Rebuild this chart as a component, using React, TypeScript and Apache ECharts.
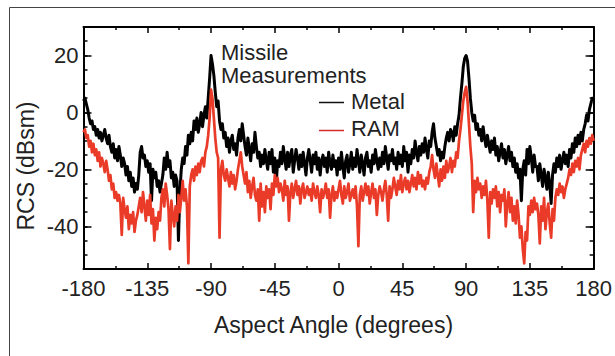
import React, { useEffect, useRef } from "react";
import * as echarts from "echarts";

// Aspect angle grid: -180 .. 180 in 1-degree steps
const ANGLE_START = -180;
const ANGLE_STEP = 1;

// Metal missile RCS (dBsm), one value per degree from -180 to 180
const metalRcs = [
  4, 5, 3, 1, -2, -4, -3, -6, -5, -8,
  -6, -9, -7, -10, -8, -6, -9, -11, -8, -12,
  -14, -11, -16, -13, -17, -12, -15, -19, -16, -18,
  -22, -19, -24, -21, -26, -23, -28, -25, -27, -22,
  -14, -12, -16, -15, -19, -17, -21, -18, -31, -20,
  -23, -21, -26, -24, -28, -25, -22, -16, -20, -14,
  -19, -17, -23, -21, -26, -22, -24, -45, -28, -20,
  -16, -18, -12, -15, -8, -11, -7, -10, -3, -6,
  -2, -7, -4, 0, -5, -1, 2, -2, 5, 12,
  20, 17, 13, 7, 2, 4, -3, -6, -4, -9,
  -7, -12, -9, -14, -10, -8, -13, -11, -15, -9,
  -6, -10, -4, -8, -12, -15, -9, -13, -17, -11,
  -14, -7, -12, -16, -14, -19, -15, -18, -13, -17,
  -20, -14, -18, -13, -21, -16, -25, -17, -19, -14,
  -18, -12, -16, -20, -14, -19, -15, -13, -21, -17,
  -13, -16, -20, -15, -19, -14, -18, -22, -16, -13,
  -17, -21, -15, -18, -14, -20, -16, -22, -17, -15,
  -19, -16, -21, -14, -18, -20, -15, -19, -17, -22,
  -16, -20, -14, -19, -23, -17, -15, -21, -18, -14,
  -20, -16, -19, -13, -17, -21, -15, -18, -22, -16,
  -14, -19, -17, -21, -15, -18, -13, -17, -20, -16,
  -19, -14, -18, -12, -16, -20, -15, -17, -13, -18,
  -16, -20, -14, -18, -15, -19, -12, -17, -14, -21,
  -15, -18, -13, -16, -10, -14, -17, -12, -15, -11,
  -14, -9, -13, -16, -10, -12, -7, -4, -9, -12,
  -15, -13, -17, -14, -16, -12, -9, -7, -10, -6,
  -7, -10, -5, -8, -4, -1, 5, 10, 16, 19,
  20, 18, 12, 5, 0, -3, -1, -6, -4, -8,
  -6, -10, -5, -9, -12, -8, -11, -14, -10, -13,
  -9, -15, -12, -17, -14, -11, -16, -13, -18, -15,
  -12, -17, -14, -19, -16, -21, -18, -23, -20, -31,
  -20, -17, -22, -13, -18, -12, -16, -21, -15, -19,
  -19, -24, -18, -22, -26, -20, -23, -27, -21, -25,
  -32, -22, -18, -21, -16, -19, -15, -20, -17, -14,
  -18, -15, -19, -13, -16, -11, -14, -9, -12, -8,
  -11, -7, -10, -6, -4, -1, -3, 1, 3, 5,
  4,
];

// RAM-coated missile RCS (dBsm), one value per degree from -180 to 180
const ramRcs = [
  -7, -6, -9, -8, -12, -10, -14, -11, -15, -13,
  -17, -14, -19, -16, -18, -21, -17, -20, -24, -22,
  -27, -25, -30, -28, -31, -29, -32, -43, -30, -34,
  -37, -33, -41, -36, -39, -35, -42, -38, -36, -33,
  -30, -35, -28, -33, -38, -31, -36, -29, -39, -34,
  -45, -37, -41, -35, -38, -30, -27, -33, -25, -29,
  -34, -48, -31, -36, -40, -33, -38, -29, -35, -30,
  -24, -31, -27, -33, -53, -26, -22, -20, -24, -19,
  -22, -18, -21, -17, -16, -19, -14, -12, -8, -2,
  8, 5, -2, -9, -14, -16, -44, -20, -17, -22,
  -24, -20, -23, -26, -21, -25, -22, -27, -24, -20,
  -17, -14, -19, -22, -25, -21, -28, -24, -30, -26,
  -23, -29, -31, -27, -38, -25, -33, -28, -35, -26,
  -30, -27, -34, -25, -29, -22, -26, -23, -28, -25,
  -27, -31, -24, -29, -26, -38, -28, -25, -30, -27,
  -24, -29, -26, -32, -27, -25, -30, -28, -26, -29,
  -27, -31, -25, -28, -30, -26, -29, -35, -27, -30,
  -28, -25, -30, -27, -37, -29, -26, -31, -28, -30,
  -27, -24, -29, -32, -26, -30, -28, -25, -31, -29,
  -27, -30, -26, -33, -47, -29, -26, -31, -28, -25,
  -29, -26, -32, -28, -25, -30, -27, -36, -29, -26,
  -28, -31, -27, -24, -29, -38, -26, -30, -27, -23,
  -26, -29, -24, -27, -22, -28, -25, -23, -27, -24,
  -28, -25, -22, -26, -23, -27, -21, -25, -22, -26,
  -24, -27, -23, -25, -21, -19, -15, -20, -23, -18,
  -22, -26, -20, -24, -19, -23, -17, -21, -19, -16,
  -21, -17, -19, -14, -16, -10, -6, -1, 4, 7,
  9, 4, -4, -12, -18, -35, -24, -28, -23, -27,
  -25, -30, -26, -29, -24, -31, -44, -28, -32, -27,
  -30, -26, -33, -28, -35, -29, -31, -27, -40, -32,
  -28, -35, -30, -38, -33, -39, -31, -36, -44, -40,
  -48, -53, -42, -45, -33, -36, -31, -35, -30, -34,
  -32, -36, -46, -33, -38, -30, -41, -35, -32, -39,
  -44, -34, -38, -30, -27, -29, -25, -28, -26, -30,
  -27, -25, -23, -20, -22, -18, -21, -17, -19, -16,
  -20, -15, -13, -11, -14, -10, -12, -9, -11, -8,
  -10,
];

const yMajorTicks = [-40, -20, 0, 20];

const FONT = "'Liberation Sans', Arial, Helvetica, sans-serif";
const TEXT = "#222";
const RED = "#ea3a28";

export default function App() {
  const ref = useRef<HTMLDivElement>(null);

  useEffect(() => {
    const chart = echarts.init(ref.current as HTMLDivElement, null, { renderer: "svg" });
    const toPairs = (vals: number[]) => vals.map((v, i) => [ANGLE_START + i * ANGLE_STEP, v]);

    const xBase = (position: "bottom" | "top", showLabel: boolean) => ({
      type: "value",
      min: -180,
      max: 180,
      interval: 45,
      position,
      axisLine: { show: true, onZero: false, lineStyle: { color: "#000", width: 2 } },
      axisTick: { show: true, inside: true, length: 6, lineStyle: { color: "#000", width: 1.5 } },
      minorTick: { show: true, splitNumber: 2, length: 3, lineStyle: { color: "#000", width: 1.5 } },
      axisLabel: {
        show: showLabel,
        fontSize: 22,
        color: TEXT,
        fontFamily: FONT,
        margin: 8,
        showMinLabel: true,
        showMaxLabel: true,
      },
      splitLine: { show: false },
      minorSplitLine: { show: false },
    });

    const yMinor = (position: "left" | "right", showLabel: boolean) => ({
      type: "value",
      min: -55,
      max: 30,
      interval: 5,
      position,
      axisLine: { show: true, onZero: false, lineStyle: { color: "#000", width: 2 } },
      axisTick: { show: true, inside: true, length: 4, lineStyle: { color: "#000", width: 1.5 } },
      axisLabel: {
        show: showLabel,
        fontSize: 22,
        color: TEXT,
        fontFamily: FONT,
        margin: 5,
        formatter: (v: number) => (yMajorTicks.indexOf(v) >= 0 ? String(v) : ""),
      },
      splitLine: { show: false },
    });

    const yMajor = (position: "left" | "right") => ({
      type: "value",
      min: -55,
      max: 30,
      position,
      axisLine: { show: false, onZero: false },
      axisTick: {
        show: true,
        inside: true,
        length: 8,
        customValues: yMajorTicks,
        lineStyle: { color: "#000", width: 1.5 },
      },
      axisLabel: { show: false },
      splitLine: { show: false },
    });

    chart.setOption({
      animation: false,
      backgroundColor: "#fff",
      grid: { left: 83.5, right: 18, top: 27, bottom: 87, containLabel: false },
      xAxis: [xBase("bottom", true), xBase("top", false)],
      yAxis: [yMinor("left", true), yMajor("left"), yMinor("right", false), yMajor("right")],
      series: [
        {
          name: "Metal",
          type: "line",
          xAxisIndex: 0,
          yAxisIndex: 0,
          data: toPairs(metalRcs),
          showSymbol: false,
          symbol: "none",
          lineStyle: { color: "#000", width: 3, join: "round" },
          z: 2,
        },
        {
          name: "RAM",
          type: "line",
          xAxisIndex: 0,
          yAxisIndex: 0,
          data: toPairs(ramRcs),
          showSymbol: false,
          symbol: "none",
          lineStyle: { color: RED, width: 2.7, join: "round" },
          z: 3,
        },
      ],
      graphic: [
        { type: "line", shape: { x1: 9.5, y1: 7.5, x2: 615, y2: 7.5 }, style: { stroke: "#444", lineWidth: 1 }, silent: true },
        { type: "line", shape: { x1: 9.5, y1: 7.5, x2: 9.5, y2: 356 }, style: { stroke: "#444", lineWidth: 1 }, silent: true },
        {
          type: "text",
          x: 221,
          y: 52.5,
          style: { text: "Missile", font: `22px ${FONT}`, fill: TEXT, textAlign: "left", textVerticalAlign: "middle" },
        },
        {
          type: "text",
          x: 221,
          y: 75.8,
          style: { text: "Measurements", font: `22px ${FONT}`, fill: TEXT, textAlign: "left", textVerticalAlign: "middle" },
        },
        { type: "line", shape: { x1: 319, y1: 102.5, x2: 344, y2: 102.5 }, style: { stroke: "#111", lineWidth: 1.5 } },
        {
          type: "text",
          x: 351,
          y: 101.7,
          style: { text: "Metal", font: `22px ${FONT}`, fill: TEXT, textAlign: "left", textVerticalAlign: "middle" },
        },
        { type: "line", shape: { x1: 319, y1: 130.5, x2: 344, y2: 130.5 }, style: { stroke: "#d42b2b", lineWidth: 1.5 } },
        {
          type: "text",
          x: 351,
          y: 128.3,
          style: { text: "RAM", font: `22px ${FONT}`, fill: TEXT, textAlign: "left", textVerticalAlign: "middle" },
        },
        {
          type: "text",
          x: 26,
          y: 166,
          rotation: Math.PI / 2,
          style: { text: "RCS (dBsm)", font: `23px ${FONT}`, fill: TEXT, textAlign: "center", textVerticalAlign: "middle" },
        },
        {
          type: "text",
          x: 333.5,
          y: 325,
          style: {
            text: "Aspect Angle (degrees)",
            font: `23px ${FONT}`,
            fill: TEXT,
            textAlign: "center",
            textVerticalAlign: "middle",
          },
        },
      ],
    });

    return () => chart.dispose();
  }, []);

  return (
    <div
      ref={ref}
      style={{ position: "absolute", left: 0, top: 0, width: 615, height: 356, background: "#fff" }}
    />
  );
}
